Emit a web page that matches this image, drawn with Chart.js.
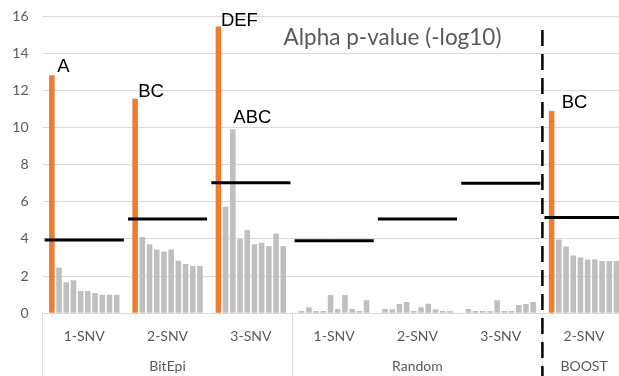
<!DOCTYPE html>
<html><head><meta charset="utf-8">
<script src="https://cdn.jsdelivr.net/npm/chart.js@4.4.1/dist/chart.umd.min.js"></script>
<style>
html,body{margin:0;padding:0;overflow:hidden;background:#fff;width:619px;height:376px}
#wrap{width:619px;height:376px;overflow:hidden;position:relative}
canvas{display:block}
</style></head><body><div id="wrap"><canvas id="c" width="630" height="376" style="width:630px;height:376px"></canvas></div>
<script>
// ---------- data ----------
const categories = ['1-SNV','2-SNV','3-SNV','1-SNV','2-SNV','3-SNV','2-SNV'];
const groups = ['BitEpi','Random','BOOST'];
const groupSizes = [3,3,1];
const yTicks = [0,2,4,6,8,10,12,14,16];
// ten bars per category (first = tested interaction, then the next nine)
const bitEpi1 = [12.81, 2.46, 1.67, 1.78, 1.20, 1.20, 1.09, 1.00, 1.00, 1.00];
const bitEpi2 = [11.55, 4.11, 3.71, 3.43, 3.32, 3.43, 2.83, 2.65, 2.55, 2.55];
const bitEpi3 = [15.43, 5.74, 9.90, 4.00, 4.48, 3.71, 3.80, 3.62, 4.29, 3.62];
const random1 = [0.13, 0.32, 0.13, 0.13, 0.99, 0.23, 0.99, 0.23, 0.13, 0.70];
const random2 = [0.23, 0.22, 0.50, 0.61, 0.12, 0.32, 0.52, 0.22, 0.12, 0.12];
const random3 = [0.23, 0.12, 0.12, 0.12, 0.70, 0.12, 0.12, 0.45, 0.50, 0.61];
const boost2  = [10.89, 3.97, 3.59, 3.11, 3.00, 2.90, 2.90, 2.81, 2.81, 2.81];
const thresholds = [3.95, 5.08, 7.03, 3.91, 5.08, 7.00, 5.15];
const barLabels = [
  {series:0, cat:0, text:'A'},
  {series:0, cat:1, text:'BC'},
  {series:0, cat:2, text:'DEF'},
  {series:2, cat:2, text:'ABC'},
  {series:0, cat:6, text:'BC'}
];
const titleText = 'Alpha p-value (-log10)';

// ---------- styles ----------
const ORANGE = '#ED7D31', GRAY = '#BFBFBF', TXT = '#595959', GRID = '#D9D9D9';
const labelOffsets = [[5.5,3.5],[3,2],[2.5,1],[0.5,6.5],[10,3]];
const firstBarColors = [ORANGE, ORANGE, ORANGE, GRAY, GRAY, GRAY, ORANGE];

const perCat = [bitEpi1, bitEpi2, bitEpi3, random1, random2, random3, boost2];
const datasets = [];
for (let s = 0; s < 10; s++) {
  datasets.push({
    data: perCat.map(c => c[s]),
    backgroundColor: s === 0 ? firstBarColors : GRAY,
    borderWidth: 0,
    categoryPercentage: 0.865,
    barPercentage: 0.77
  });
}

const overlay = {
  id: 'overlay',
  afterDatasetsDraw(chart) {
    const {ctx, scales: {x, y}} = chart;
    const w = x.width / categories.length;
    ctx.save();
    ctx.strokeStyle = '#000'; ctx.lineWidth = 3;
    thresholds.forEach((t, i) => {
      const cx = x.getPixelForValue(i), py = y.getPixelForValue(t);
      ctx.beginPath(); ctx.moveTo(cx - w * 0.475, py); ctx.lineTo(cx + w * 0.475, py); ctx.stroke();
    });
    ctx.font = '18.5px "Liberation Sans", Arial, sans-serif';
    ctx.fillStyle = '#000'; ctx.textAlign = 'left'; ctx.textBaseline = 'alphabetic';
    barLabels.forEach((l, k) => {
      const el = chart.getDatasetMeta(l.series).data[l.cat];
      ctx.fillText(l.text, el.x + labelOffsets[k][0], el.y - labelOffsets[k][1]);
    });
    ctx.restore();
  },
  afterDraw(chart) {
    const {ctx, scales: {x, y}} = chart;
    const w = x.width / categories.length;
    ctx.save();
    // group separators and group labels
    ctx.strokeStyle = GRID; ctx.lineWidth = 1;
    ctx.font = '14px Lato, sans-serif'; ctx.fillStyle = TXT;
    ctx.textAlign = 'center'; ctx.textBaseline = 'middle';
    let start = 0;
    const bounds = [];
    groups.forEach((g, gi) => {
      const left = x.getPixelForValue(start) - w / 2;
      const right = x.getPixelForValue(start + groupSizes[gi] - 1) + w / 2;
      bounds.push(left, right);
      ctx.fillText(g, (left + right) / 2, 366);
      start += groupSizes[gi];
    });
    [...new Set(bounds.map(b => Math.round(b * 10) / 10))].forEach(b => {
      ctx.beginPath(); ctx.moveTo(b, x.top); ctx.lineTo(b, chart.height); ctx.stroke();
    });
    // dashed divider before BOOST
    const dx = x.getPixelForValue(6) - w / 2;
    ctx.strokeStyle = '#000'; ctx.lineWidth = 2.5; ctx.setLineDash([16, 8]);
    ctx.beginPath(); ctx.moveTo(dx, y.getPixelForValue(15.25)); ctx.lineTo(dx, chart.height); ctx.stroke();
    ctx.setLineDash([]);
    // title inside plot
    ctx.font = '22.5px Lato, sans-serif'; ctx.fillStyle = TXT;
    ctx.textAlign = 'center'; ctx.textBaseline = 'alphabetic';
    ctx.fillText(titleText, 392.5, 45);
    ctx.restore();
  }
};

new Chart(document.getElementById('c'), {
  type: 'bar',
  data: {labels: categories, datasets},
  options: {
    responsive: false, animation: false, devicePixelRatio: 1,
    layout: {padding: {top: 16, right: 4.3, left: 0, bottom: 0}},
    plugins: {legend: {display: false}, tooltip: {enabled: false}, title: {display: false}},
    scales: {
      x: {
        grid: {display: false, drawTicks: false},
        border: {display: true, color: GRID, width: 1},
        ticks: {font: {family: 'Lato', size: 14}, color: TXT, padding: 15, maxRotation: 0, autoSkip: false},
        afterFit(s) { s.height = 62.7; }
      },
      y: {
        min: 0, max: 16,
        afterBuildTicks(s) { s.ticks = yTicks.map(v => ({value: v})); },
        grid: {color: GRID, lineWidth: 1, drawTicks: false},
        border: {display: false},
        ticks: {font: {family: 'Lato', size: 14}, color: TXT, padding: 14},
        afterFit(s) { s.width = 42.6; s.paddingTop = 0; s.paddingBottom = 0; }
      }
    }
  },
  plugins: [overlay]
});
</script></body></html>
